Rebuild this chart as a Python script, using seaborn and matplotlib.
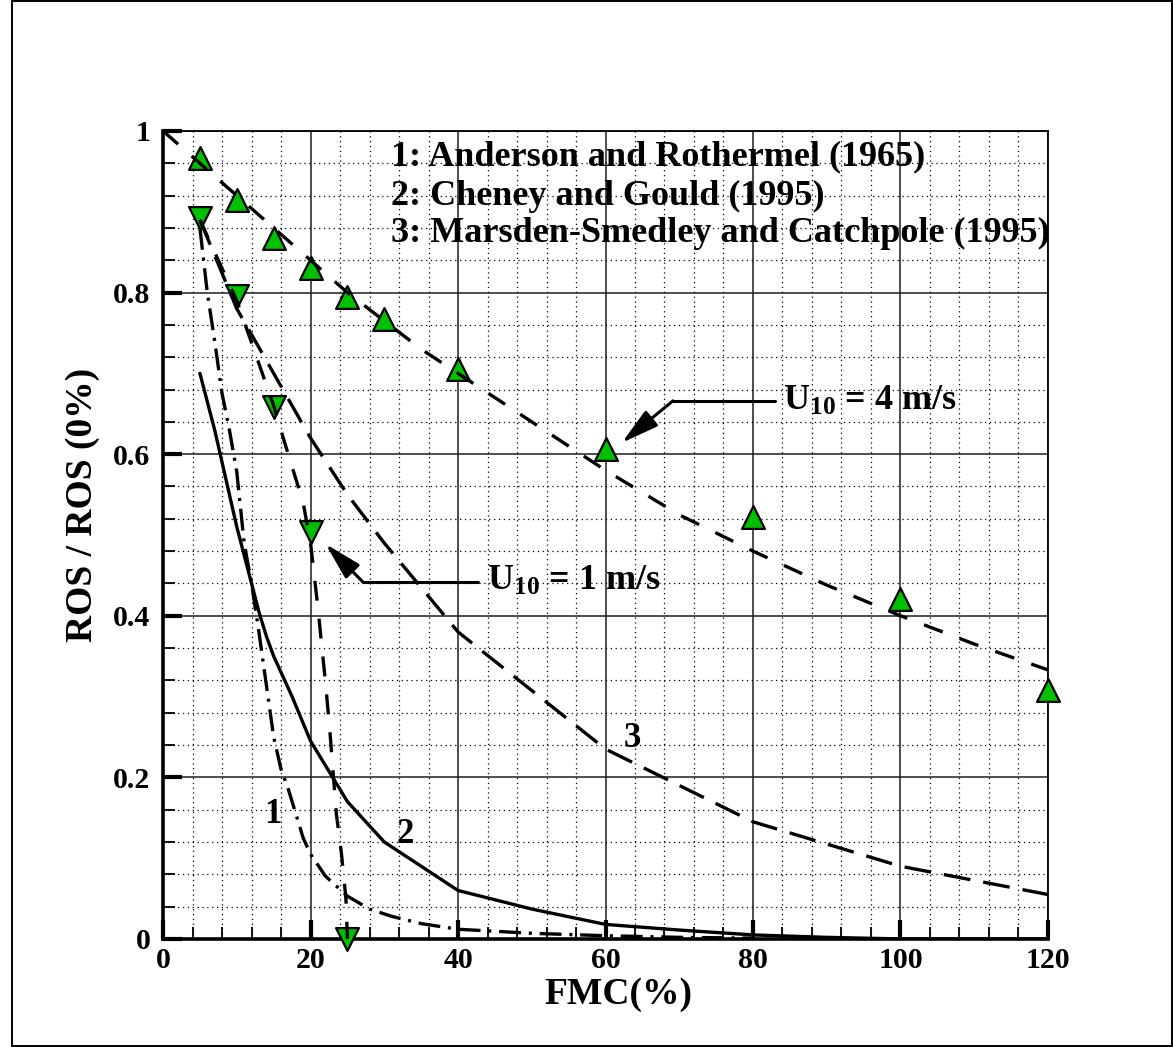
import matplotlib
matplotlib.use("Agg")
import matplotlib.pyplot as plt
import seaborn as sns
from matplotlib.ticker import MultipleLocator, FuncFormatter
from matplotlib.patches import Rectangle

# ---------------- data ----------------
# observed / computed points, U10 = 4 m/s (up triangles)
fmc_obs_u4 = [5, 10, 15, 20, 25, 30, 40, 60, 80, 100, 120]
ros_obs_u4 = [0.967, 0.915, 0.868, 0.830, 0.794, 0.767, 0.705, 0.607, 0.522, 0.421, 0.308]
# observed / computed points, U10 = 1 m/s (down triangles)
fmc_obs_u1 = [5, 10, 15, 20, 25]
ros_obs_u1 = [0.892, 0.796, 0.658, 0.504, 0.0]

# short-dashed fit curve, U10 = 4 m/s
fmc_fit_u4 = [0, 5, 10, 15, 20, 25, 30, 35, 40, 50, 60, 70, 80, 90, 100, 110, 120]
ros_fit_u4 = [1.0, 0.96, 0.92, 0.88, 0.84, 0.80, 0.765, 0.73, 0.70, 0.64, 0.58,
              0.525, 0.48, 0.438, 0.40, 0.365, 0.333]
# short-dashed fit curve, U10 = 1 m/s
fmc_fit_u1 = [5, 10, 15, 16.5, 19, 20, 21, 22, 22.6, 23.5, 24.2, 24.8, 25]
ros_fit_u1 = [0.89, 0.79, 0.66, 0.614, 0.54, 0.49, 0.41, 0.32, 0.26, 0.155, 0.105, 0.05, 0.0]

# 1: Anderson and Rothermel (1965)  (dash-dot)
fmc_ar = [5, 6, 7, 8, 9, 10, 11, 12, 13, 14, 15, 16, 17, 18, 19, 20, 22, 25, 28,
          31, 35, 40, 50, 60, 70, 80]
ros_ar = [0.88, 0.80, 0.74, 0.675, 0.63, 0.578, 0.49, 0.44, 0.38, 0.315, 0.25, 0.21,
          0.185, 0.155, 0.125, 0.105, 0.078, 0.053, 0.037, 0.028, 0.019, 0.012,
          0.007, 0.004, 0.002, 0.001]
# 2: Cheney and Gould (1995)  (solid)
fmc_cg = [5, 6, 7, 8, 9, 10, 11, 12, 13, 14, 15, 17.5, 20, 25, 30, 40, 50, 60, 70,
          80, 90, 100, 120]
ros_cg = [0.70, 0.665, 0.63, 0.59, 0.55, 0.51, 0.475, 0.44, 0.405, 0.375, 0.35, 0.30,
          0.245, 0.17, 0.12, 0.06, 0.037, 0.018, 0.011, 0.005, 0.002, 0.0, 0.0]
# 3: Marsden-Smedley and Catchpole (1995)  (long dash)
fmc_ms = [5, 10, 15, 20, 25, 30, 40, 60, 80, 100, 120]
ros_ms = [0.89, 0.78, 0.70, 0.62, 0.55, 0.49, 0.38, 0.235, 0.145, 0.09, 0.055]

legend_lines = ["1: Anderson and Rothermel (1965)",
                "2: Cheney and Gould (1995)",
                "3: Marsden-Smedley and Catchpole (1995)"]
x_ticks = [0, 20, 40, 60, 80, 100, 120]
y_ticks = [0, 0.2, 0.4, 0.6, 0.8, 1.0]

# ---------------- style ----------------
sns.set_style("white")
plt.rcParams["font.family"] = ["Liberation Serif", "DejaVu Serif"]
plt.rcParams["font.weight"] = "bold"
plt.rcParams["text.color"] = "black"
plt.rcParams["axes.labelcolor"] = "black"
plt.rcParams["xtick.color"] = "black"
plt.rcParams["ytick.color"] = "black"
plt.rcParams["xtick.labelcolor"] = "black"
plt.rcParams["ytick.labelcolor"] = "black"
plt.rcParams["mathtext.fontset"] = "custom"
plt.rcParams["mathtext.rm"] = "Liberation Serif"
plt.rcParams["mathtext.it"] = "Liberation Serif"
plt.rcParams["mathtext.bf"] = "Liberation Serif:bold"
plt.rcParams["lines.scale_dashes"] = False

GREEN = "#00c000"
LW = 2.4

fig = plt.figure(figsize=(11.73, 10.47), dpi=100)
ax = fig.add_axes([0.139, 0.1032, 0.7544, 0.7717])

# markers (below the lines)
sns.scatterplot(x=fmc_obs_u4, y=ros_obs_u4, ax=ax, marker="^", s=270, color=GREEN,
                edgecolor="black", linewidth=1.6, zorder=3, clip_on=False)
sns.scatterplot(x=fmc_obs_u1, y=ros_obs_u1, ax=ax, marker="v", s=270, color=GREEN,
                edgecolor="black", linewidth=1.6, zorder=3, clip_on=False)

dash_fit = (0, (14.4, 13.0))
dash_ms = (0, (19.4, 9.4))
dash_ar = (0, (15.8, 5.6, 2.2, 5.6))

def draw(x, y, ls):
    sns.lineplot(x=x, y=y, ax=ax, color="black", linewidth=LW, linestyle=ls,
                 sort=False, estimator=None, zorder=4, dash_capstyle="butt",
                 solid_joinstyle="round")

draw(fmc_fit_u4, ros_fit_u4, dash_fit)
draw(fmc_fit_u1, ros_fit_u1, dash_fit)
draw(fmc_ms, ros_ms, dash_ms)
draw(fmc_ar, ros_ar, dash_ar)
draw(fmc_cg, ros_cg, "-")

# axes, ticks, grid
ax.set_xlim(0, 120)
ax.set_ylim(0, 1)
ax.set_xticks(x_ticks)
ax.set_yticks(y_ticks)
ax.xaxis.set_minor_locator(MultipleLocator(4))
ax.yaxis.set_minor_locator(MultipleLocator(0.04))
ax.yaxis.set_major_formatter(FuncFormatter(
    lambda v, p: "0" if abs(v) < 1e-9 else ("1" if abs(v - 1) < 1e-9 else f"{v:.1f}")))
ax.xaxis.set_major_formatter(FuncFormatter(lambda v, p: f"{v:.0f}"))
ax.set_axisbelow(True)
ax.grid(which="major", color="#1e1e1e", linewidth=1.1, linestyle="-")
ax.grid(which="minor", color="black", linewidth=0.9, linestyle=(0, (0.9, 2.6)))
ax.tick_params(axis="x", which="major", pad=6)
ax.tick_params(axis="y", which="major", pad=9)
ax.tick_params(which="major", direction="in", length=14, width=3.0, labelsize=21.5,
               bottom=True, left=True, top=False, right=False, color="black",
               labelcolor="black")
ax.tick_params(which="minor", direction="in", length=8.5, width=1.3,
               bottom=True, left=True, top=False, right=False, color="black")
for lbl in ax.get_xticklabels() + ax.get_yticklabels():
    lbl.set_fontweight("bold")

for side in ["left", "bottom"]:
    ax.spines[side].set_linewidth(2.6)
    ax.spines[side].set_color("black")
for side in ["top", "right"]:
    ax.spines[side].set_linewidth(1.3)
    ax.spines[side].set_color("black")

ax.set_xlabel("FMC(%)", fontsize=27, fontweight="bold", color="black")
ax.set_ylabel("ROS / ROS (0%)", fontsize=27, fontweight="bold", color="black")
ax.xaxis.set_label_coords(0.515, -0.047)
ax.yaxis.set_label_coords(-0.071, 0.537)

# legend-like text block
for txt, yb in zip(legend_lines, [0.957, 0.909, 0.862]):
    ax.text(30.9, yb, txt, fontsize=26, fontweight="bold", va="baseline", ha="left",
            color="black", zorder=6)

# curve labels
ax.text(14.85, 0.1436, "1", fontsize=25, fontweight="bold", ha="center", va="baseline")
ax.text(32.9, 0.119, "2", fontsize=25, fontweight="bold", ha="center", va="baseline")
ax.text(63.6, 0.2376, "3", fontsize=25, fontweight="bold", ha="center", va="baseline")

# annotations
arrow_kw = dict(arrowstyle="-|>,head_length=1.15,head_width=0.3", color="black",
                lw=2.2, mutation_scale=20, shrinkA=0, shrinkB=0)
ax.plot([69.15, 83.0], [0.666, 0.666], color="black", lw=2.2, zorder=5)
ax.annotate("", xy=(62.2, 0.614), xytext=(69.15, 0.666), arrowprops=arrow_kw, zorder=5)
ax.text(84.1, 0.6547, r"U$_{10}$ = 4 m/s", fontsize=26, fontweight="bold",
        va="baseline", ha="left")

ax.plot([27.1, 42.7], [0.4418, 0.4418], color="black", lw=2.2, zorder=5)
ax.annotate("", xy=(22.03, 0.4889), xytext=(27.1, 0.4418), arrowprops=arrow_kw, zorder=5)
ax.text(43.9, 0.432, r"U$_{10}$ = 1 m/s", fontsize=26, fontweight="bold",
        va="baseline", ha="left")

# figure frame
fig.patches.append(Rectangle((0.0102, 0.0008), 0.989, 0.9985, transform=fig.transFigure,
                             fill=False, edgecolor="black", linewidth=1.4))

fig.savefig("out.png", dpi=100, facecolor="white")
